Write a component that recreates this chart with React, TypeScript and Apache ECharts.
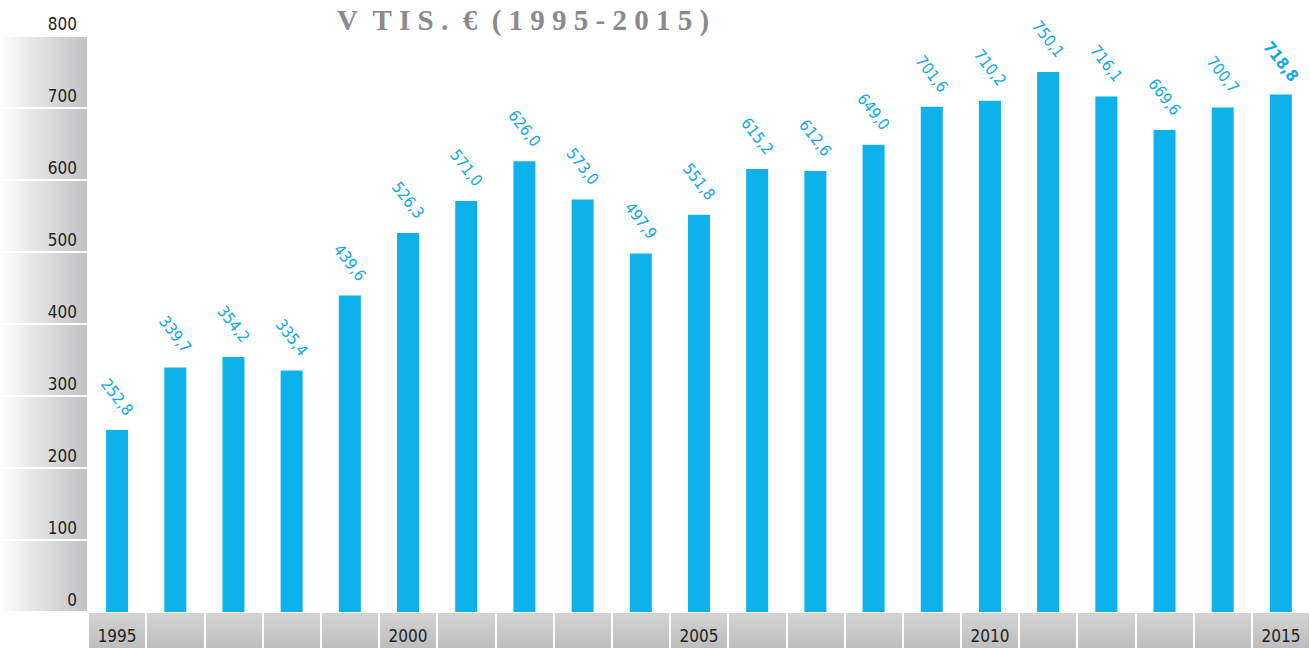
import React, { useEffect, useRef } from "react";
import * as echarts from "echarts";

const years: string[] = [
  "1995", "1996", "1997", "1998", "1999", "2000", "2001", "2002", "2003", "2004",
  "2005", "2006", "2007", "2008", "2009", "2010", "2011", "2012", "2013", "2014", "2015",
];
const values: number[] = [
  252.8, 339.7, 354.2, 335.4, 439.6, 526.3, 571.0, 626.0, 573.0, 497.9,
  551.8, 615.2, 612.6, 649.0, 701.6, 710.2, 750.1, 716.1, 669.6, 700.7, 718.8,
];
const shownYears: string[] = ["1995", "2000", "2005", "2010", "2015"];
const titleText = "V\u00a0\u00a0T\u00a0I\u00a0S\u00a0.\u00a0\u00a0€\u00a0\u00a0(\u00a01\u00a09\u00a09\u00a05\u00a0-\u00a02\u00a00\u00a01\u00a05\u00a0)";

const BLUE = "#0db2ea";
const FONT = "'Liberation Sans Narrow', 'DejaVu Sans Condensed', 'Noto Sans', sans-serif";

export default function App() {
  const ref = useRef<HTMLDivElement>(null);
  useEffect(() => {
    if (!ref.current) return;
    const chart = echarts.init(ref.current, undefined, { renderer: "svg" });
    const panelGrad = new echarts.graphic.LinearGradient(0, 0, 87, 0, [
      { offset: 0, color: "#ffffff" },
      { offset: 0.3, color: "#ebebec" },
      { offset: 1, color: "#c2c2c4" },
    ], true);
    const cellGrad = new echarts.graphic.LinearGradient(0, 613, 0, 648, [
      { offset: 0, color: "#d4d4d4" },
      { offset: 1, color: "#bdbdbd" },
    ], true);
    const option: any = {
      animation: false,
      backgroundColor: "#ffffff",
      title: {
        text: titleText,
        left: 332,
        top: 0,
        textStyle: {
          fontFamily: "'Liberation Serif', 'DejaVu Serif', serif",
          fontWeight: "bold",
          fontSize: 29,
          color: "#8a8a8e",
        },
      },
      grid: [
        { left: 88, right: -10, top: 36, bottom: 36, containLabel: false },
        { left: 0, width: 87, top: 36, bottom: 36, containLabel: false },
        { left: 88, right: -10, top: 613, height: 40, containLabel: false },
      ],
      xAxis: [
        {
          type: "category",
          gridIndex: 0,
          data: years,
          axisLine: { show: false },
          axisTick: { show: false },
          axisLabel: {
            show: true,
            interval: 0,
            margin: 24,
            verticalAlign: "middle",
            fontFamily: FONT,
            fontSize: 17,
            color: "#222222",
            formatter: (v: string) => (shownYears.indexOf(v) >= 0 ? v : ""),
          },
          splitLine: { show: false },
        },
        {
          type: "value",
          gridIndex: 1,
          show: false,
          min: 0,
          max: 1,
        },
        {
          type: "category",
          gridIndex: 2,
          data: years,
          axisLine: { show: false },
          axisTick: { show: false },
          axisLabel: { show: false },
          splitLine: { show: true, interval: 0, lineStyle: { color: "#ffffff", width: 2 } },
          splitArea: { show: true, interval: 0, areaStyle: { color: [cellGrad] } },
        },
      ],
      yAxis: [
        {
          type: "value",
          gridIndex: 0,
          min: 0,
          max: 800,
          interval: 100,
          axisLine: { show: false },
          axisTick: { show: false },
          splitLine: { show: false },
          axisLabel: {
            margin: 11,
            verticalAlign: "bottom",
            padding: [0, 0, 4, 0],
            fontFamily: FONT,
            fontSize: 17,
            color: "#222222",
          },
        },
        {
          type: "value",
          gridIndex: 1,
          min: 0,
          max: 800,
          interval: 100,
          axisLine: { show: false },
          axisTick: { show: false },
          axisLabel: { show: false },
          splitLine: { show: true, lineStyle: { color: "#ffffff", width: 2 } },
          splitArea: { show: true, areaStyle: { color: [panelGrad] } },
        },
        {
          type: "value",
          gridIndex: 2,
          min: 0,
          max: 1,
          show: false,
        },
      ],
      series: [
        {
          type: "bar",
          xAxisIndex: 0,
          yAxisIndex: 0,
          data: values.map((v, i) =>
            i === values.length - 1
              ? { value: v, label: { fontWeight: "bold" } }
              : v
          ),
          barWidth: 22,
          itemStyle: { color: BLUE },
          label: {
            show: true,
            position: "top",
            distance: 33,
            rotate: -52,
            align: "center",
            verticalAlign: "middle",
            fontFamily: FONT,
            fontSize: 16,
            color: "#14a9e2",
            formatter: (p: any) => Number(p.value).toFixed(1).replace(".", ","),
          },
        },
      ],
    };
    chart.setOption(option);
    return () => chart.dispose();
  }, []);
  return (
    <div
      ref={ref}
      style={{ position: "fixed", left: 0, top: 0, width: 1310, height: 648, overflow: "hidden" }}
    />
  );
}
